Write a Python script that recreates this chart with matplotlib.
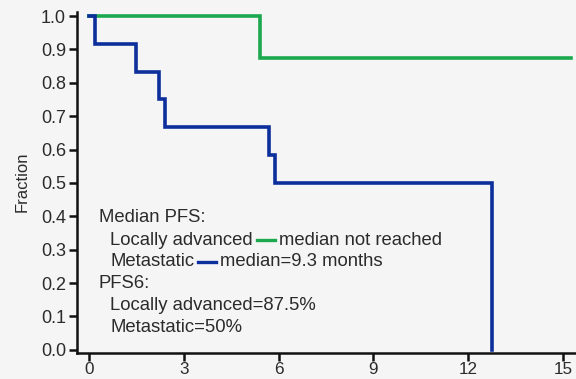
import matplotlib
matplotlib.use("Agg")
import matplotlib.pyplot as plt
from matplotlib.lines import Line2D

# Data
la_times = [0, 5.4, 15.25]
la_surv = [1.0, 0.875, 0.875]
met_times = [0, 0.2, 1.5, 2.2, 2.4, 5.7, 5.9, 12.75, 12.75]
met_surv = [1.0, 0.917, 0.833, 0.75, 0.667, 0.583, 0.5, 0.0, 0.0]
xticks = [0, 3, 6, 9, 12, 15]
yticks = [0.0, 0.1, 0.2, 0.3, 0.4, 0.5, 0.6, 0.7, 0.8, 0.9, 1.0]

GREEN = "#1ba84e"
BLUE = "#0d2f9c"
BG = "#f5f5f5"
TXT = "#2b2b2b"

plt.rcParams['font.family'] = ['Liberation Sans', 'DejaVu Sans']

fig = plt.figure(figsize=(5.76, 3.79), dpi=100, facecolor=BG)
ax = fig.add_axes([77/576, 1-352.5/379, (575-77)/576, (352.5-12)/379])
ax.set_facecolor(BG)

ax.step(la_times, la_surv, where='post', color=GREEN, lw=2.6, solid_joinstyle='miter')
ax.step(met_times, met_surv, where='post', color=BLUE, lw=2.6, solid_joinstyle='miter')

ax.set_xlim(-0.38, 15.38)
ax.set_ylim(-0.008, 1.012)
ax.set_xticks(xticks)
ax.set_xticklabels([str(x) for x in xticks])
ax.set_yticks(yticks)
ax.set_yticklabels([f"{y:.1f}" for y in yticks])
for s in ['top', 'right']:
    ax.spines[s].set_visible(False)
for s in ['left', 'bottom']:
    ax.spines[s].set_linewidth(1.8)
    ax.spines[s].set_color('#111111')
ax.tick_params(direction='out', length=6, width=1.8, colors='#111111',
               labelsize=13, labelcolor=TXT, pad=2)
ax.tick_params(axis='x', labelsize=12.3, pad=0.5)
ax.set_ylabel("Fraction", fontsize=12, color=TXT, labelpad=8)

fs = 13.3
def px(x, y):
    # figure pixel (from top-left) -> figure fraction
    return x/576, 1 - y/379

def put(x, y, s):
    return fig.text(*px(x, y), s, fontsize=fs, color=TXT, va='center', ha='left')

put(99, 218, "Median PFS:")
t1 = put(110, 240, "Locally advanced")
t2 = put(110, 262, "Metastatic")
put(99, 284, "PFS6:")
put(110, 306, "Locally advanced=87.5%")
put(110, 328, "Metastatic=50%")

fig.canvas.draw()
r = fig.canvas.get_renderer()
gap = 4
seg = 18
for t, yy, col, lab in [(t1, 240, GREEN, "median not reached"),
                        (t2, 262, BLUE, "median=9.3 months")]:
    bb = t.get_window_extent(r)
    x0 = bb.x1 + gap
    x1 = x0 + seg
    yf = 1 - yy/379
    fig.add_artist(Line2D([x0/576, x1/576], [yf, yf], color=col, lw=2.4,
                          transform=fig.transFigure))
    fig.text((x1 + gap)/576, yf, lab, fontsize=fs, color=TXT, va='center', ha='left')

fig.savefig("out.png", dpi=100, facecolor=BG)
